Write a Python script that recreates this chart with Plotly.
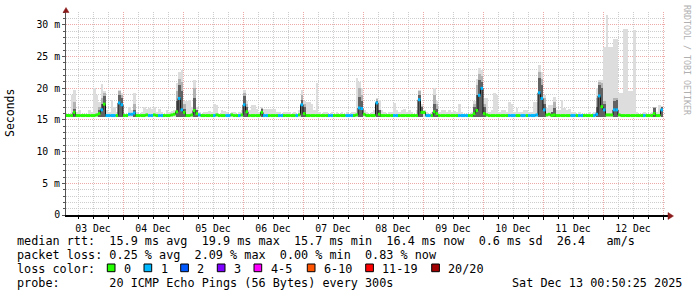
import plotly.graph_objects as go
from datetime import datetime, timedelta

N = None
# ---------------- data: hourly bins starting 2025-12-03 00:00 ----------------
BIN_START = datetime(2025, 12, 3, 0, 0)

median_rtt = (
    [15.7,15.7,15.7,15.7,16.2,15.7,15.7,15.7,15.7,15.7,15.7,15.7,15.7,15.8,16.0,16.6,17.5,15.7,15.7,15.7,15.7,15.7,17.7,17.4] +
    [15.7,15.7,15.9,15.9,16.1,15.7,15.7,15.7,15.7,15.8,15.7,15.7,15.8,15.7,15.7,15.7,15.7,15.7,15.7,15.8,15.9,16.3,18.4,16.6] +
    [16.2,15.7,15.7,15.8,16.5,16.0,15.8,15.7,15.7,15.7,15.7,15.7,15.7,15.8,15.7,15.7,15.7,15.7,15.7,15.8,15.7,15.7,15.7,15.8] +
    [17.4,16.3,15.7,15.7,15.7,15.7,15.7,16.2,15.7,15.7,15.7,15.7,15.7,15.7,15.7,15.7,15.7,15.7,15.7,15.7,15.7,15.7,15.8,17.4] +
    [16.0,15.7,15.7,15.7,15.7,15.7,15.7,15.7,15.7,15.7,15.7,15.7,15.7,15.7,15.7,15.7,15.7,15.7,15.7,15.7,15.7,15.8,16.9,16.8] +
    [15.9,15.7,15.7,15.7,15.7,17.7,15.9,15.7,15.7,15.7,15.7,15.7,15.7,15.7,15.7,15.7,15.7,15.7,15.7,15.7,15.7,15.7,18.2,16.2] +
    [16.2,15.7,15.7,15.7,16.3,16.0,15.7,15.7,15.7,15.7,15.7,15.7,15.7,15.7,15.7,15.7,15.7,15.7,15.7,15.7,16.0,16.5,18.9,20.0] +
    [16.0,15.8,15.7,15.7,15.7,15.7,15.7,15.7,15.7,15.7,15.7,15.7,15.7,15.7,15.7,15.7,15.7,15.7,15.7,15.7,15.7,15.8,19.3,18.4] +
    [16.6,15.8,15.9,15.7,15.8,15.7,15.7,15.7,15.7,15.7,15.7,15.7,15.7,15.7,15.7,15.7,15.7,15.7,15.7,15.7,15.7,15.9,18.8,17.1] +
    [16.6,15.8,15.8,15.8,16.6,16.6,15.8,15.7,15.7,15.7,15.7,15.7,15.7,15.7,15.7,15.7,15.7,15.7,15.7,15.7,16.0,15.7,15.7,16.6]
)

loss_count = (
    [0,0,0,0,0,0,0,0,0,0,0,0,0,0,0,1,0,1,1,1,1,0,1,1] +
    [0,0,1,1,1,0,0,0,0,0,1,1,0,0,1,1,0,0,0,0,0,0,1,1] +
    [0,0,0,0,0,0,1,0,0,0,0,0,1,0,0,0,0,1,1,0,0,0,1,0] +
    [1,0,0,0,0,0,0,0,1,1,0,0,0,0,1,1,0,0,0,0,0,1,0,1] +
    [0,0,0,0,0,0,0,0,0,0,1,1,0,0,0,0,0,1,1,1,0,0,1,1] +
    [0,0,0,0,0,1,0,0,0,0,0,0,1,1,0,0,0,0,0,0,0,0,1,0] +
    [0,1,1,0,0,0,0,0,0,0,0,0,0,0,1,1,1,1,0,0,0,0,1,1] +
    [0,0,0,0,0,0,0,0,0,0,1,1,1,0,0,1,1,0,1,1,1,1,1,1] +
    [1,0,0,0,0,0,0,0,0,0,0,1,1,0,1,1,0,0,0,0,1,1,1,0] +
    [1,0,0,0,1,1,0,0,0,0,0,0,0,0,0,0,1,0,0,0,0,0,0,1]
)

smoke_max = (
    [15.9,15.9,16.0,19.0,19.7,16.2,16.6,16.0,16.0,16.0,16.5,16.3,20.0,19.0,17.9,20.7,19.5,16.5,16.3,18.1,17.1,16.3,19.7,19.3] +
    [16.0,16.0,17.1,16.5,19.2,16.2,16.0,16.3,17.0,16.8,16.9,16.8,17.0,16.2,16.8,16.3,16.0,16.6,16.2,16.4,16.5,20.8,22.6,22.9] +
    [18.0,18.0,18.1,17.0,21.3,17.0,16.3,16.0,16.3,16.3,16.4,16.2,17.5,17.3,16.0,16.5,16.4,16.2,16.0,16.3,16.3,16.0,16.2,16.5] +
    [19.7,18.0,16.5,17.4,17.4,16.8,16.2,17.0,16.7,16.7,16.7,16.7,16.7,16.3,16.2,16.0,16.2,16.2,16.3,16.0,16.2,16.0,16.5,19.7] +
    [18.0,17.9,17.9,17.5,16.5,20.8,16.3,16.0,16.3,16.3,16.0,16.2,16.0,16.2,16.0,16.2,16.0,16.2,16.0,16.3,16.2,21.6,21.0,20.0] +
    [16.5,16.2,16.0,16.2,16.5,18.5,18.2,16.5,16.2,16.0,16.3,16.2,17.7,16.5,16.3,16.5,16.8,16.3,16.5,16.3,16.0,16.5,19.8,17.5] +
    [16.5,16.2,16.0,16.3,20.0,18.0,16.2,16.6,16.6,16.3,16.6,16.2,16.4,16.2,17.6,16.3,16.0,16.0,16.0,16.2,18.0,21.5,23.2,22.9] +
    [18.5,18.5,16.2,16.5,19.2,19.0,16.3,16.6,16.6,16.3,17.9,17.5,16.3,16.9,16.3,16.2,16.6,16.6,16.2,16.3,17.9,17.9,23.7,22.5] +
    [19.0,16.9,17.4,17.4,18.6,16.5,16.5,18.1,16.9,16.5,16.7,16.3,16.3,16.0,16.3,16.0,16.0,16.0,16.2,16.0,16.3,20.0,21.3,21.3] +
    [26.6,31.6,26.6,26.6,27.8,27.8,19.3,19.3,29.3,29.3,19.5,19.5,29.2,16.3,16.0,16.0,16.2,16.0,16.0,16.3,17.0,16.3,17.4,17.2]
)

smoke_mid = (
    [N]*4 + [17.9] + [N]*9 + [17.0,18.5,19.2] + [N]*5 + [19.5,19.0] +
    [N]*4 + [17.5] + [N]*16 + [19.5,21.5,21.0] +
    [17.5] + [N]*3 + [20.0] + [N]*19 +
    [19.2,17.5] + [N]*5 + [16.9] + [N]*15 + [19.0] +
    [17.5] + [N]*21 + [20.0,19.0] +
    [N]*5 + [18.3] + [N]*16 + [19.5,17.2] +
    [N]*4 + [19.0,17.5] + [N]*14 + [17.5,20.5,22.3,22.0] +
    [17.5] + [N]*21 + [22.5,21.5] +
    [18.5] + [N]*3 + [17.8] + [N]*16 + [18.5,21.0,20.8] +
    [18.0] + [N]*3 + [18.5,18.5] + [N]*14 + [17.0] + [N]*2 + [17.1]
)

smoke_dark = (
    [N]*4 + [16.8] + [N]*9 + [16.5,17.5,18.8] + [N]*5 + [19.0,18.5] +
    [N]*4 + [16.6] + [N]*16 + [18.0,20.5,19.5] +
    [16.8] + [N]*3 + [18.4,16.5] + [N]*18 +
    [18.8,17.0] + [N]*5 + [16.7] + [N]*15 + [18.2] +
    [17.0] + [N]*21 + [18.7,18.0] +
    [N]*5 + [18.0,16.5] + [N]*15 + [19.0,17.0] +
    [N]*4 + [17.6,16.8] + [N]*14 + [17.0,19.0,21.3,21.0] +
    [17.0] + [N]*21 + [21.6,20.5] +
    [17.5] + [N]*2 + [16.2,16.9] + [N]*16 + [17.0,20.5,20.0] +
    [17.5] + [N]*3 + [18.0,18.1] + [N]*14 + [16.9] + [N]*2 + [17.0]
)

SMOKE_FLOOR = 15.5

y_tick_vals = [0, 5, 10, 15, 20, 25, 30]
y_tick_text = ["0", "5 m", "10 m", "15 m", "20 m", "25 m", "30 m"]

loss_labels = ["0", "1", "2", "3", "4-5", "6-10", "11-19", "20/20"]
loss_colors = ["#26ff00", "#00b8ff", "#0059ff", "#7e00ff", "#ff00ff", "#ff5500", "#ff0000", "#a00000"]

rtt_stats = ["15.9 ms avg", "19.9 ms max", "15.7 ms min", "16.4 ms now", "0.6 ms sd", "26.4   am/s"]
loss_stats = ["0.25 % avg", "2.09 % max", "0.00 % min", "0.83 % now"]
probe_text = "20 ICMP Echo Pings (56 Bytes) every 300s"
stamp_text = "Sat Dec 13 00:50:25 2025"

assert len(median_rtt) == len(loss_count) == len(smoke_max) == len(smoke_mid) == len(smoke_dark) == 240

# ---------------- geometry / style ----------------
W, H = 697, 297
PL, PR, PT, PB = 66, 665, 12, 215   # plot area pixel box
PW, PH = PR - PL, PB - PT
X0 = datetime(2025, 12, 3, 1, 12)
X1 = datetime(2025, 12, 13, 0, 48)
HOUR = timedelta(hours=1)
HOUR_MS = 3600000
MONO = "DejaVu Sans Mono"

def px(x, y):
    return (x - PL) / PW, (PB - y) / PH

times = [BIN_START + i * HOUR for i in range(len(median_rtt))]

fig = go.Figure()

def smoke(top, color):
    ys = [None if t is None else t - SMOKE_FLOOR for t in top]
    fig.add_trace(go.Bar(x=times, y=ys, base=SMOKE_FLOOR, width=HOUR_MS, offset=0,
                         marker=dict(color=color, line=dict(width=0)), hoverinfo="skip"))

smoke(smoke_max, "#dddddd")
smoke(smoke_mid, "#b2b2b2")
smoke(smoke_dark, "#626262")

# thin black median (gives the vertical steps)
fig.add_trace(go.Scatter(x=times + [times[-1] + HOUR], y=median_rtt + [median_rtt[-1]],
                         mode="lines", line=dict(color="#111111", width=1, shape="hv"),
                         hoverinfo="skip"))

# colored median segments by loss
for code in sorted(set(loss_count)):
    xs, ys = [], []
    for t, m, l in zip(times, median_rtt, loss_count):
        if l == code:
            xs += [t, t + HOUR, None]
            ys += [m, m, None]
    fig.add_trace(go.Scatter(x=xs, y=ys, mode="lines", connectgaps=False,
                             line=dict(color=loss_colors[code], width=3), hoverinfo="skip"))

RED_GRID = "#eda8a8"
GREY_GRID = "#cdcdcd"
DOT = "1px,1px"

fig.update_xaxes(
    type="date", range=[X0, X1], tick0="2025-12-03", dtick=86400000,
    ticklabelmode="period", tickformat="%d %b",
    showgrid=True, gridcolor=RED_GRID, griddash=DOT, gridwidth=1,
    showline=True, linecolor="#000000", linewidth=2,
    ticks="outside", ticklen=3, tickcolor="#000000",
    tickfont=dict(family=MONO, size=9.8, color="#000000"),
    minor=dict(tick0="2025-12-03", dtick=6 * HOUR_MS, showgrid=True, gridcolor=GREY_GRID,
               griddash=DOT, ticks="outside", ticklen=2, tickcolor="#000000"),
    zeroline=False, fixedrange=True,
)
fig.update_yaxes(
    range=[0, 32.05], tickmode="array", tickvals=y_tick_vals, ticktext=y_tick_text,
    showgrid=True, gridcolor=RED_GRID, griddash=DOT, gridwidth=1,
    showline=True, linecolor="#555555", linewidth=1,
    ticks="outside", ticklen=3, tickcolor="#555555",
    tickfont=dict(family=MONO, size=9.8, color="#000000"),
    minor=dict(dtick=1, showgrid=True, gridcolor=GREY_GRID, griddash=DOT,
               ticks="outside", ticklen=2, tickcolor="#555555"),
    zeroline=False, fixedrange=True,
)

def nb(s):
    return s.replace(" ", "\u00a0")

ann = []
def text(x, y, s, size=11.8, anchor="left", color="#000000", angle=0):
    ax, ay = px(x, y)
    ann.append(dict(x=ax, y=ay, xref="paper", yref="paper", text=nb(s), showarrow=False,
                    xanchor=anchor, yanchor="middle", textangle=angle, borderpad=0,
                    font=dict(family=MONO, size=size, color=color)))

text(10, 113, "Seconds", size=11.5, anchor="center", angle=-90)
text(687, 60, "RRDTOOL / TOBI OETIKER", size=8.3, anchor="center", color="#b0b0b0", angle=90)

text(16, 241, "median rtt:  " + "  ".join(rtt_stats))
text(16, 255, "packet loss: " + "  ".join(loss_stats))
text(16, 268.5, "loss color:")
text(16, 282.7, "probe:       " + probe_text)
text(682.5, 282.7, stamp_text, anchor="right")

swatch_x = [107.3, 144.0, 180.7, 217.3, 254.0, 307.3, 365.7, 431.7]
shapes = []
for sx, lab, col in zip(swatch_x, loss_labels, loss_colors):
    x0, y0 = px(sx, 271.7)
    x1, y1 = px(sx + 7.7, 264)
    shapes.append(dict(type="rect", xref="paper", yref="paper", x0=x0, y0=y0, x1=x1, y1=y1,
                       fillcolor=col, line=dict(color="#000000", width=1)))
    text(sx + 15.5, 268.5, lab)

# axis arrows
ARROW = "#8b1a1a"
ax0, ay0 = px(665, 216)
ax1, _ = px(668.5, 216)
shapes.append(dict(type="line", xref="paper", yref="paper", x0=ax0, y0=ay0, x1=ax1, y1=ay0,
                   line=dict(color="#000000", width=2)))
a1 = px(668, 212.5); a2 = px(673.5, 216); a3 = px(668, 219.5)
shapes.append(dict(type="path", xref="paper", yref="paper",
                   path=f"M {a1[0]},{a1[1]} L {a2[0]},{a2[1]} L {a3[0]},{a3[1]} Z",
                   fillcolor=ARROW, line=dict(color=ARROW, width=0.5)))
b1 = px(63, 12.5); b2 = px(66, 7.5); b3 = px(69, 12.5)
shapes.append(dict(type="path", xref="paper", yref="paper",
                   path=f"M {b1[0]},{b1[1]} L {b2[0]},{b2[1]} L {b3[0]},{b3[1]} Z",
                   fillcolor=ARROW, line=dict(color=ARROW, width=0.5)))

fig.update_layout(
    width=W, height=H, margin=dict(l=PL, r=W - PR, t=PT, b=H - PB, pad=0),
    paper_bgcolor="#ffffff", plot_bgcolor="#ffffff", showlegend=False,
    barmode="overlay", bargap=0, annotations=ann, shapes=shapes,
    font=dict(family=MONO, size=10, color="#000000"),
)

fig.write_html("out.html", config={"displayModeBar": False})
